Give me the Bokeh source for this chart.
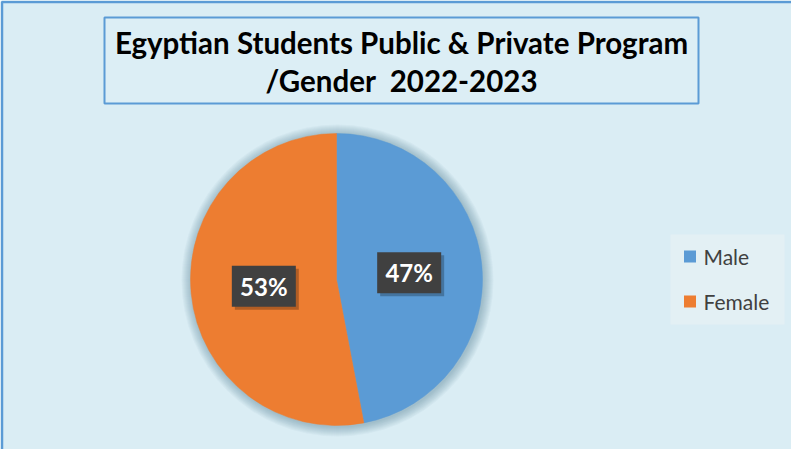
import math
from bokeh.plotting import figure
from bokeh.models import Range1d
from bokeh.core.properties import value
from bokeh.embed import file_html
from bokeh.resources import INLINE

# ---- data ----
categories = ["Male", "Female"]
shares = [47, 53]
colors = ["#5B9BD5", "#ED7D31"]
title_lines = ["Egyptian Students Public & Private Program", "/Gender\u00a0 2022-2023"]

W, H = 791, 449
BG = "#DAEDF4"

def Y(ys):  # y measured from top of canvas -> data y
    return H - ys

p = figure(width=W, height=H, output_backend="svg", toolbar_location=None,
           x_range=Range1d(0, W), y_range=Range1d(0, H), min_border=0)
p.axis.visible = False
p.grid.visible = False
p.outline_line_color = None
p.background_fill_color = BG
p.border_fill_color = BG

# chart border (left/top visible)
p.line([1.5, 1.5, W + 5], [-5, Y(1.5), Y(1.5)], line_color="#5B9BD5", line_width=2.5)

# title box
tx0, tx1, ty0, ty1 = 104, 698, 17, 103
p.quad(left=tx0, right=tx1, top=Y(ty0), bottom=Y(ty1), fill_color="#DCEEF5",
       line_color="#5B9BD5", line_width=2)
p.text(x=[(tx0 + tx1) / 2] * 2, y=[Y(42), Y(80)], text=title_lines,
       text_font=value("Lato"), text_font_style="bold", text_font_size="29.5px",
       text_color="#000000", text_align="center", text_baseline="middle")

# pie
cx, cy, r = 336, Y(279), 146
for i in range(10):
    p.circle(x=[cx + 1], y=[cy - 1], radius=r + 1 + i, fill_color="#3f6a80",
             fill_alpha=0.045, line_color=None)
total = sum(shares)
start = math.pi / 2
starts, ends, mids = [], [], []
for s in shares:
    a = 2 * math.pi * s / total
    starts.append(start)
    ends.append(start - a)
    mids.append(start - a / 2)
    start -= a
p.wedge(x=[cx] * len(shares), y=[cy] * len(shares), radius=r,
        start_angle=ends, end_angle=starts, fill_color=colors,
        line_color=colors, line_width=0.5)

# data labels
lx = [cx + 0.5 * r * math.cos(m) for m in mids]
ly = [cy + 0.5 * r * math.sin(m) for m in mids]
labels = [f"{round(s / total * 100)}%" for s in shares]
p.rect(x=[v + 3 for v in lx], y=[v - 3 for v in ly], width=64, height=41,
       fill_color="#000000", fill_alpha=0.25, line_color=None)
p.rect(x=lx, y=ly, width=64, height=41, fill_color="#404040", line_color=None)
p.text(x=lx, y=ly, text=labels, text_font=value("Lato"), text_font_style="bold",
       text_font_size="24px", text_color="#FFFFFF", text_align="center",
       text_baseline="middle")

# legend
p.quad(left=670, right=784, top=Y(234), bottom=Y(324), fill_color="#E3F0F4",
       line_color=None)
leg_y = [Y(256), Y(301)]
p.rect(x=[689.5] * 2, y=leg_y, width=12, height=12, fill_color=colors, line_color=None)
p.text(x=[703] * 2, y=leg_y, text=categories, text_font=value("Lato"),
       text_font_size="21px", text_color="#404040", text_align="left",
       text_baseline="middle")

open("out.html", "w").write(file_html(p, INLINE))
